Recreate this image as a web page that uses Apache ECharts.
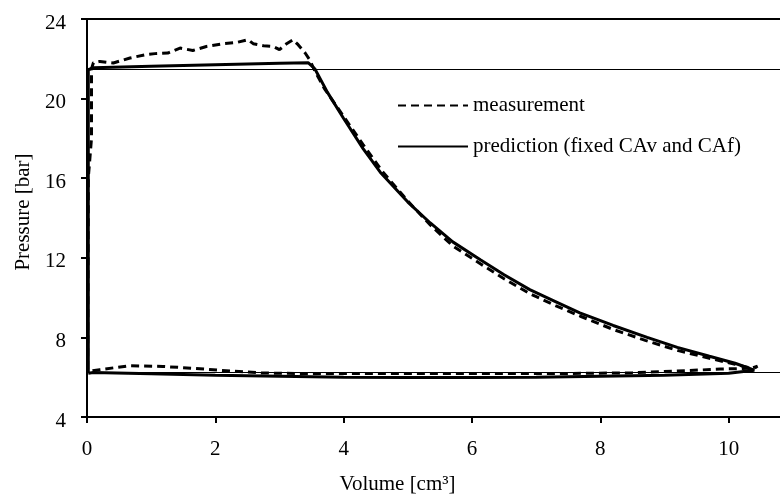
<!DOCTYPE html>
<html>
<head>
<meta charset="utf-8">
<script src="https://cdn.jsdelivr.net/npm/echarts@6/dist/echarts.min.js"></script>
<style>
  html, body { margin: 0; padding: 0; background: #fff; }
  #main { width: 780px; height: 496px; }
</style>
</head>
<body>
<div id="main"></div>
<script>
// measured loop (dashed)
const measVol = [0.01, 0.02, 0.07, 0.07, 0.1, 0.2, 0.41, 0.67, 0.9, 1.06, 1.26, 1.45, 1.65, 1.86, 2.12, 2.33, 2.51, 2.59, 2.75, 2.9, 3.0, 3.11, 3.21, 3.29, 3.4, 3.47,
  3.55, 3.7, 4.0, 4.3, 4.6, 5.0, 5.35, 5.7, 6.13, 6.5, 6.9, 7.3, 7.7, 8.2, 8.7, 9.2, 9.7, 10.1, 10.35, 10.45, 10.4,
  9.87, 9.35, 8.5, 7.27, 6.1, 5.0, 3.52, 2.74, 2.23, 1.7, 1.18, 0.67, 0.2, 0.05, 0.01];
const measPres = [6.4, 16.0, 18.0, 21.5, 21.8, 21.87, 21.79, 22.04, 22.2, 22.26, 22.29, 22.54, 22.42, 22.62, 22.76, 22.82, 22.96, 22.76, 22.66, 22.62, 22.46, 22.76, 22.96, 22.71, 22.29, 21.95,
  21.4, 20.5, 19.1, 17.7, 16.35, 14.85, 13.65, 12.6, 11.7, 10.95, 10.2, 9.6, 9.05, 8.4, 7.85, 7.35, 6.95, 6.65, 6.45, 6.55, 6.45,
  6.41, 6.33, 6.22, 6.18, 6.18, 6.18, 6.18, 6.21, 6.31, 6.44, 6.54, 6.58, 6.38, 6.3, 6.4];

// predicted loop (solid)
const predVol = [0.02, 0.02, 0.1, 1.0, 2.0, 3.0, 3.45, 3.55, 3.75, 4.0, 4.3, 4.57, 5.0, 5.35, 5.7, 6.13, 6.5, 6.9, 7.3, 7.68, 8.2, 8.73, 9.2, 9.7, 10.1, 10.4,
  10.0, 9.0, 8.0, 7.0, 6.0, 5.0, 4.0, 3.0, 2.0, 1.0, 0.1, 0.02];
const predPres = [6.2, 21.45, 21.55, 21.62, 21.7, 21.78, 21.8, 21.5, 20.3, 19.0, 17.5, 16.3, 14.8, 13.75, 12.8, 11.9, 11.15, 10.4, 9.8, 9.23, 8.6, 8.0, 7.5, 7.05, 6.7, 6.35,
  6.2, 6.1, 6.05, 6.0, 5.98, 5.98, 6.0, 6.05, 6.1, 6.17, 6.24, 6.2];

// reference levels
const refLevels = [21.5, 6.25];
const xTicks = [0, 2, 4, 6, 8, 10];

const zip = (xs, ys) => xs.map((x, i) => [x, ys[i]]);
const font = 'Liberation Serif';

const chart = echarts.init(document.getElementById('main'));
chart.setOption({
  animation: false,
  backgroundColor: '#fff',
  grid: { left: 87, top: 19, right: 0, bottom: 79, outerBoundsMode: 'none' },
  legend: {
    orient: 'vertical',
    left: 392,
    top: 90,
    itemWidth: 70,
    itemHeight: 14,
    itemGap: 20,
    itemStyle: { opacity: 0 },
    textStyle: { fontFamily: font, fontSize: 21, color: '#000' },
    data: ['measurement', 'prediction (fixed CAv and CAf)']
  },
  xAxis: {
    type: 'value',
    min: 0,
    max: 10.8,
    name: 'Volume [cm³]',
    nameLocation: 'middle',
    nameGap: 57,
    nameTextStyle: { fontFamily: font, fontSize: 21, color: '#000', padding: [0, 72, 0, 0] },
    axisLine: { lineStyle: { color: '#000', width: 2 } },
    axisTick: { show: true, length: 6, lineStyle: { color: '#000', width: 2 }, customValues: xTicks },
    axisLabel: { fontFamily: font, fontSize: 21, color: '#000', margin: 22, customValues: xTicks },
    splitLine: { show: false }
  },
  yAxis: {
    type: 'value',
    min: 4,
    max: 24,
    interval: 4,
    name: 'Pressure [bar]',
    nameLocation: 'middle',
    nameGap: 52,
    nameTextStyle: { fontFamily: font, fontSize: 21, color: '#000', padding: [0, 0, 0, 12] },
    axisLine: { show: true, lineStyle: { color: '#000', width: 2 } },
    axisTick: { show: true, length: 6, lineStyle: { color: '#000', width: 2 } },
    axisLabel: {
      margin: 21,
      formatter: '{v|{value}}',
      rich: { v: { fontFamily: font, fontSize: 21, color: '#000', padding: [8, 0, 0, 0] } }
    },
    splitLine: { show: false }
  },
  series: [
    {
      name: 'prediction (fixed CAv and CAf)',
      type: 'line',
      data: zip(predVol, predPres),
      showSymbol: false,
      symbol: 'none',
      z: 3,
      lineStyle: { color: '#000', width: 3 },
      itemStyle: { color: '#000' },
      markLine: {
        silent: true,
        symbol: 'none',
        label: { show: false },
        lineStyle: { color: '#000', width: 1.2, type: 'solid' },
        data: refLevels.map(v => ({ yAxis: v }))
          .concat([{ yAxis: 24, lineStyle: { width: 2 } }])
      }
    },
    {
      name: 'measurement',
      type: 'line',
      data: zip(measVol, measPres),
      showSymbol: false,
      symbol: 'none',
      z: 4,
      lineStyle: { color: '#000', width: 3, type: [8, 5] },
      itemStyle: { color: '#000' }
    }
  ]
});
</script>
</body>
</html>
